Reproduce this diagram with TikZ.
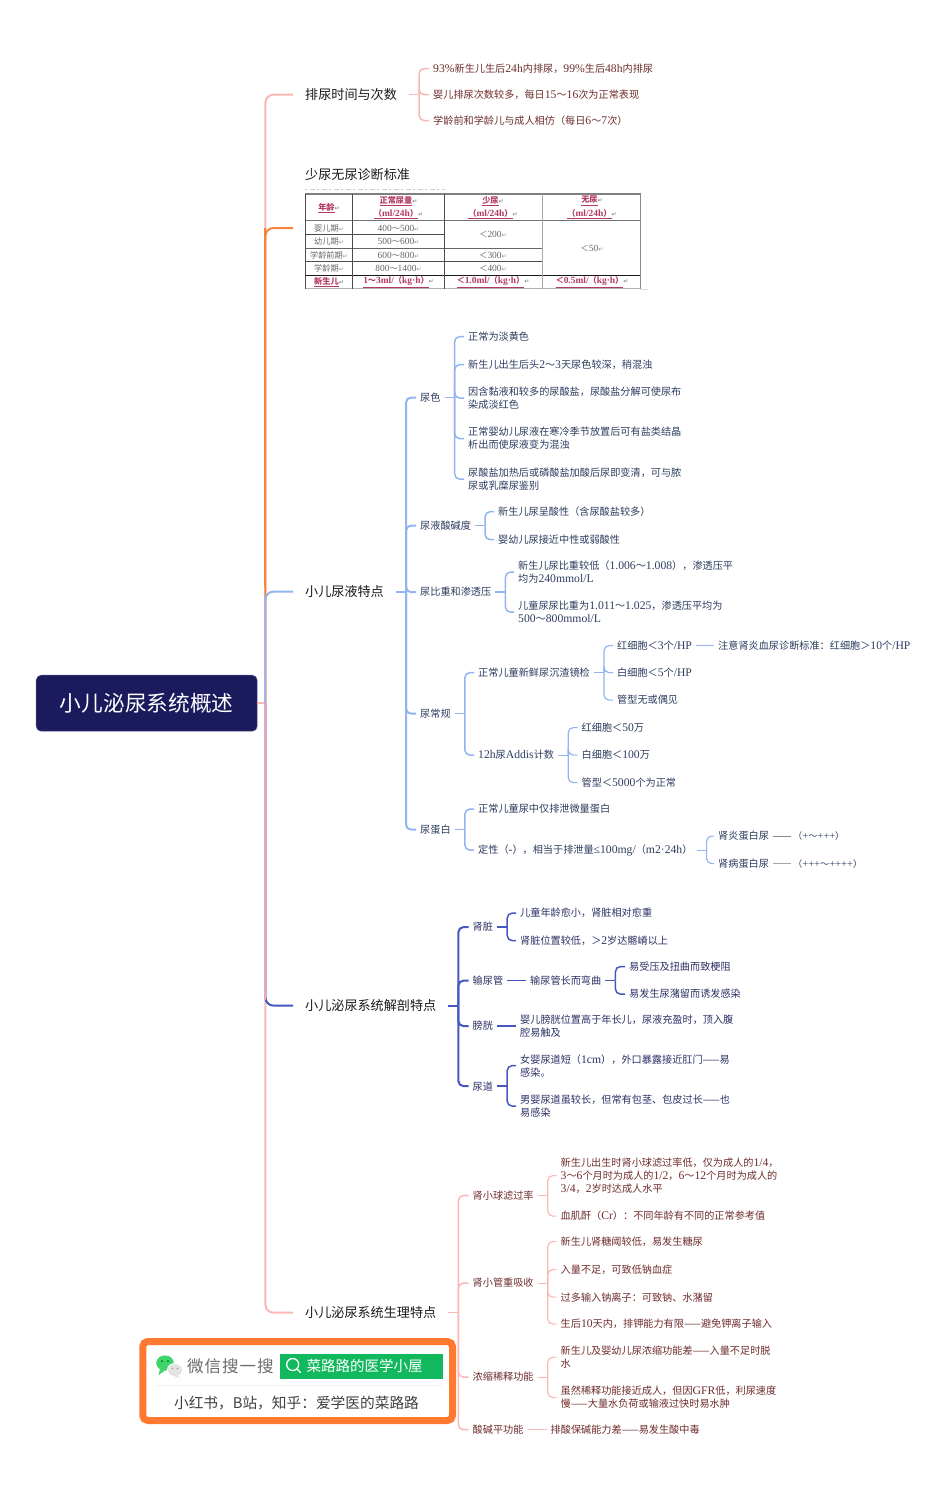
\documentclass[tikz,border=0pt]{standalone}
\usepackage{fontspec}
\usepackage{xcolor}
\usepackage{tikz}
\setmainfont{Noto Sans CJK SC}
\newfontfamily\cjkfont{Noto Sans CJK SC}
\newfontfamily\latfont[Scale=1.15]{Liberation Serif}
\newfontfamily\symfont{DejaVu Sans}
\newfontfamily\spacedfont[LetterSpace=6]{Noto Sans CJK SC}
\definecolor{Navy}{HTML}{1A1A5C}
\definecolor{Salmon}{HTML}{F8B9B3}
\definecolor{Carrot}{HTML}{F5853C}
\definecolor{Sky}{HTML}{92B4F0}
\definecolor{Periwinkle}{HTML}{A5B2E2}
\definecolor{Mauve}{HTML}{E8A9BC}
\definecolor{Indigo}{HTML}{4657C0}
\definecolor{WineInk}{HTML}{6E2C2C}
\definecolor{SkyInk}{HTML}{2C3C5E}
\definecolor{IndigoInk}{HTML}{2C3064}
\definecolor{Crimson}{HTML}{B23A5E}
\definecolor{TableInk}{HTML}{666666}
\definecolor{Badge}{HTML}{FF7A30}
\definecolor{SearchGreen}{HTML}{12B85E}
\definecolor{WeGreen}{HTML}{3FD56B}
\newcommand{\lat}[1]{{\latfont #1}}
\newcommand{\tl}{{\cjkfont ～}}
\newcommand{\rt}{{\symfont\fontsize{6}{6}\selectfont\textcolor{black!45}{↵}}}
\newcommand{\brch}[4]{%
  \draw[#1] (#3.east) -- ++(#2,0);
  \foreach \kid in {#4} \draw[#1,rounded corners=5pt] (#3.east) ++(#2,0) |- (\kid.west);
}
\tikzset{
  topic/.style={anchor=west,inner xsep=12pt,inner ysep=1pt,yshift=-.6pt,font=\fontsize{13.1}{16}\selectfont,text=black!90},
  leaf/.style={anchor=west,inner xsep=4pt,inner ysep=1pt,yshift=-.6pt,align=left,font=\fontsize{10.15}{13}\selectfont},
  rootline/.style={line width=2pt},
  midline/.style={line width=1.5pt},
  thinline/.style={line width=1.2pt},
  cell/.style={inner sep=0pt,font=\fontsize{8.2}{9}\selectfont,text=TableInk},
  headcell/.style={inner sep=0pt,font=\fontsize{8.2}{9}\selectfont\bfseries,text=Crimson},
}
\begin{document}
\begin{tikzpicture}[x=1pt,y=-1pt]
        \useasboundingbox (0,0) rectangle (950,1497);
        \node[fill=Navy,rounded corners=5pt,draw=Navy!75!white,line width=.5pt,minimum width=221pt,minimum height=56pt,text=white,font=\fontsize{21.7}{26}\selectfont,inner sep=0pt] (root) at (146.7,703.2) {小儿泌尿系统概述};

        \node[topic] (tVoid) at (293,94) {排尿时间与次数};
        \node[topic] (tOligo) at (293,174) {少尿无尿诊断标准};
        \coordinate (tOligoEnd) at (293,228);
        \node[topic] (tUrine) at (293,591) {小儿尿液特点};
        \node[topic] (tAnat) at (293,1005) {小儿泌尿系统解剖特点};
        \node[topic] (tPhys) at (293,1312) {小儿泌尿系统生理特点};
        \coordinate (rootBus) at ([xshift=8pt]root.east);

        \draw[rootline,Salmon] (root.east) -- (rootBus);
        \draw[rootline,Salmon,rounded corners=8pt] (rootBus) |- (tVoid.west);
        \draw[rootline,Carrot,rounded corners=8pt] (rootBus) |- (tOligoEnd);
        \draw[rootline,Sky,rounded corners=8pt] (rootBus) |- (tUrine.west);
        \draw[rootline,Salmon,rounded corners=8pt] (rootBus) |- (tPhys.west);
        \draw[rootline,Indigo,rounded corners=8pt] (rootBus) |- (tAnat.west);
        \draw[rootline,Carrot] (rootBus |- tOligoEnd) -- ([yshift=6pt]rootBus |- tUrine.west);
        \draw[rootline,Periwinkle] (rootBus) -- ([yshift=-6pt]rootBus |- tUrine.west);
        \draw[rootline,Mauve] (rootBus) -- ([yshift=6pt]rootBus |- tAnat.west);

        \foreach \nm/\yy/\txt in {v1/68/{\lat{93\%}新生儿生后\lat{24h}内排尿，\lat{99\%}生后\lat{48h}内排尿},v2/94/{婴儿排尿次数较多，每日\lat{15\tl 16}次为正常表现},v3/120/{学龄前和学龄儿与成人相仿（每日\lat{6\tl 7}次）}}{
          \node[leaf,text=WineInk] (\nm) at (429,\yy) {\txt};
        }
        \brch{midline,Salmon}{10}{tVoid}{v1,v2,v3}

        \draw[line width=1pt,black!20,dash pattern=on 2pt off 3pt on 5pt off 2pt] (305,189.5) -- (445,189.5);
        \draw[line width=1.2pt,black!50] (305,194) -- (640.5,194);
        \draw[line width=.7pt,black!55] (305,220.7) -- (640.5,220.7);
        \draw[line width=.7pt,black!70] (305,234.3) -- (444.3,234.3);
        \draw[line width=.7pt,black!60] (305,248.3) -- (542,248.3);
        \draw[line width=.7pt,black!70] (305,261.7) -- (542,261.7);
        \draw[line width=.8pt,black!90] (305,275.3) -- (640.5,275.3);
        \draw[line width=1pt,black!30] (305,288.8) -- (640.5,288.8);
        \draw[line width=.5pt,black!15] (640.5,289.5) -- (648,289.5);
        \foreach \xx/\col in {305.3/black!70,352.7/black!70,444.3/black!70,542/black!35,640.5/black!45}{
          \draw[line width=.8pt,\col] (\xx,194) -- (\xx,288.8);
        }
        \foreach \nm/\xx/\yy/\txt in {h1/329/208/年龄,h2/398.5/201/正常尿量,h3/398.5/214/{（\lat{ml/24h}）},h4/493/201/少尿,h5/493/214/{（\lat{ml/24h}）},h6/592/201/无尿,h7/592/214/{（\lat{ml/24h}）},h8/329/282/新生儿,h9/398.5/282/{\lat{1\tl 3ml/}（\lat{kg·h}）},h10/493/282/{＜\lat{1.0ml/}（\lat{kg·h}）},h11/592/282/{＜\lat{0.5ml/}（\lat{kg·h}）}}{
          \node[headcell] (\nm) at (\xx,\yy) {\underline{\txt}\rt};
        }
        \foreach \nm/\xx/\yy/\txt in {a1/329/228/婴儿期,a2/329/241.5/幼儿期,a3/329/255/学龄前期,a4/329/268.5/学龄期,n1/398.5/228/{\lat{400\tl 500}},n2/398.5/241.5/{\lat{500\tl 600}},n3/398.5/255/{\lat{600\tl 800}},n4/398.5/268.5/{\lat{800\tl 1400}},o1/493/234.5/{＜\lat{200}},o2/493/255/{＜\lat{300}},o3/493/268.5/{＜\lat{400}},x1/592/248/{＜\lat{50}}}{
          \node[cell] (\nm) at (\xx,\yy) {\txt\rt};
        }

        \foreach \nm/\yy/\txt in {color/397/尿色,acid/525/尿液酸碱度,gravity/591.5/尿比重和渗透压,routine/713/尿常规,protein/829/尿蛋白}{
          \node[leaf,text=SkyInk] (\nm) at (416,\yy) {\txt};
        }
        \brch{rootline,Sky}{10}{tUrine}{color,acid,gravity,routine,protein}
        \foreach \nm/\yy/\txt in {c1/336/正常为淡黄色,c2/364/{新生儿出生后头\lat{2\tl 3}天尿色较深，稍混浊},c3/397.5/{因含黏液和较多的尿酸盐，尿酸盐分解可使尿布\\染成淡红色},c4/438/{正常婴幼儿尿液在寒冷季节放置后可有盐类结晶\\析出而使尿液变为混浊},c5/478.5/{尿酸盐加热后或磷酸盐加酸后尿即变清，可与脓\\尿或乳糜尿鉴别}}{
          \node[leaf,text=SkyInk] (\nm) at (464,\yy) {\txt};
        }
        \brch{midline,Sky}{10}{color}{c1,c2,c3,c4,c5}
        \foreach \nm/\yy/\txt in {p1/511/新生儿尿呈酸性（含尿酸盐较多）,p2/539/婴幼儿尿接近中性或弱酸性}{
          \node[leaf,text=SkyInk] (\nm) at (494,\yy) {\txt};
        }
        \brch{midline,Sky}{10}{acid}{p1,p2}
        \foreach \nm/\yy/\txt in {g1/571.5/{新生儿尿比重较低（\lat{1.006\tl 1.008}），渗透压平\\均为\lat{240mmol/L}},g2/611.5/{儿童尿尿比重为\lat{1.011\tl 1.025}，渗透压平均为\\\lat{500\tl 800mmol/L}}}{
          \node[leaf,text=SkyInk] (\nm) at (514,\yy) {\txt};
        }
        \brch{midline,Sky}{10}{gravity}{g1,g2}
        \node[leaf,text=SkyInk] (r1) at (474,672) {正常儿童新鲜尿沉渣镜检};
        \node[leaf,text=SkyInk] (r2) at (474,754.5) {\lat{12h}尿\lat{Addis}计数};
        \brch{midline,Sky}{10}{routine}{r1,r2}
        \foreach \nm/\yy/\txt in {s1/645/{红细胞＜\lat{3}个\lat{/HP}},s2/672/{白细胞＜\lat{5}个\lat{/HP}},s3/699.5/管型无或偶见}{
          \node[leaf,text=SkyInk] (\nm) at (613,\yy) {\txt};
        }
        \brch{thinline,Sky}{10}{r1}{s1,s2,s3}
        \node[leaf,text=SkyInk] (s1n) at (714,645) {注意肾炎血尿诊断标准：红细胞＞\lat{10}个\lat{/HP}};
        \draw[thinline,Sky] (s1) -- (s1n);
        \foreach \nm/\yy/\txt in {d1/727/{红细胞＜\lat{50}万},d2/754.5/{白细胞＜\lat{100}万},d3/782/{管型＜\lat{5000}个为正常}}{
          \node[leaf,text=SkyInk] (\nm) at (577.5,\yy) {\txt};
        }
        \brch{thinline,Sky}{10}{r2}{d1,d2,d3}
        \node[leaf,text=SkyInk] (q1) at (474,808.5) {正常儿童尿中仅排泄微量蛋白};
        \node[leaf,text=SkyInk] (q2) at (474,849.5) {定性（\lat{-}），相当于排泄量\lat{≤100mg/}（\lat{m2·24h}）};
        \brch{midline,Sky}{10}{protein}{q1,q2}
        \node[leaf,text=SkyInk] (k1) at (714,835.5) {肾炎蛋白尿};
        \node[leaf,text=SkyInk] (k2) at (714,863) {肾病蛋白尿};
        \brch{thinline,Sky}{10}{q2}{k1,k2}
        \node[leaf,text=SkyInk,inner xsep=2pt,font=\fontsize{9.15}{13}\selectfont] (k1v) at (791,835.5) {（\lat{+\tl +++}）};
        \node[leaf,text=SkyInk,inner xsep=2pt,font=\fontsize{9.15}{13}\selectfont] (k2v) at (791,863) {（\lat{+++\tl ++++}）};
        \draw[thinline,black!45] (k1) -- (k1v);
        \draw[thinline,black!35] (k2) -- (k2v);

        \foreach \nm/\yy/\txt in {kidney/926.5/肾脏,ureter/980/输尿管,bladder/1025.5/膀胱,urethra/1085.5/尿道}{
          \node[leaf,text=IndigoInk] (\nm) at (468.5,\yy) {\txt};
        }
        \brch{rootline,Indigo}{10}{tAnat}{kidney,ureter,bladder,urethra}
        \foreach \nm/\yy/\txt in {b1/912.5/儿童年龄愈小，肾脏相对愈重,b2/940/{肾脏位置较低，＞\lat{2}岁达髂嵴以上}}{
          \node[leaf,text=IndigoInk] (\nm) at (516,\yy) {\txt};
        }
        \brch{midline,Indigo}{10}{kidney}{b1,b2}
        \node[leaf,text=IndigoInk] (u1) at (526,980) {输尿管长而弯曲};
        \draw[midline,Indigo] (ureter) -- (u1);
        \foreach \nm/\yy/\txt in {u2/966/易受压及扭曲而致梗阻,u3/993.5/易发生尿潴留而诱发感染}{
          \node[leaf,text=IndigoInk] (\nm) at (625,\yy) {\txt};
        }
        \brch{midline,Indigo}{10}{u1}{u2,u3}
        \node[leaf,text=IndigoInk] (l1) at (516,1025.5) {婴儿膀胱位置高于年长儿，尿液充盈时，顶入腹\\腔易触及};
        \draw[midline,Indigo] (bladder) -- (l1);
        \foreach \nm/\yy/\txt in {e1/1065/{女婴尿道短（\lat{1cm}），外口暴露接近肛门——易\\感染。},e2/1105.5/{男婴尿道虽较长，但常有包茎、包皮过长——也\\易感染}}{
          \node[leaf,text=IndigoInk] (\nm) at (516,\yy) {\txt};
        }
        \brch{midline,Indigo}{10}{urethra}{e1,e2}

        \foreach \nm/\yy/\txt in {gfr/1195/肾小球滤过率,tub/1282.5/肾小管重吸收,conc/1376.5/浓缩稀释功能,ph/1429/酸碱平功能}{
          \node[leaf,text=WineInk] (\nm) at (468.5,\yy) {\txt};
        }
        \brch{midline,Salmon}{10}{tPhys}{gfr,tub,conc,ph}
        \foreach \nm/\yy/\txt in {f1/1175/{新生儿出生时肾小球滤过率低，仅为成人的\lat{1/4}，\\\lat{3\tl 6}个月时为成人的\lat{1/2}，\lat{6\tl 12}个月时为成人的\\\lat{3/4}，\lat{2}岁时达成人水平},f2/1215.5/{血肌酐（\lat{Cr}）：不同年龄有不同的正常参考值}}{
          \node[leaf,text=WineInk] (\nm) at (556.5,\yy) {\txt};
        }
        \brch{thinline,Salmon}{10}{gfr}{f1,f2}
        \foreach \nm/\yy/\txt in {w1/1241/新生儿肾糖阈较低，易发生糖尿,w2/1269/入量不足，可致低钠血症,w3/1296.5/过多输入钠离子：可致钠、水潴留,w4/1323.5/{生后\lat{10}天内，排钾能力有限——避免钾离子输入}}{
          \node[leaf,text=WineInk] (\nm) at (556.5,\yy) {\txt};
        }
        \brch{thinline,Salmon}{10}{tub}{w1,w2,w3,w4}
        \foreach \nm/\yy/\txt in {z1/1356.5/{新生儿及婴幼儿尿浓缩功能差——入量不足时脱\\水},z2/1397/{虽然稀释功能接近成人，但因\lat{GFR}低，利尿速度\\慢——大量水负荷或输液过快时易水肿}}{
          \node[leaf,text=WineInk] (\nm) at (556.5,\yy) {\txt};
        }
        \brch{thinline,Salmon}{10}{conc}{z1,z2}
        \node[leaf,text=WineInk] (ph1) at (546.5,1429) {排酸保碱能力差——易发生酸中毒};
        \draw[thinline,Salmon] (ph) -- (ph1);

        \draw[Badge,line width=7pt,fill=white,rounded corners=5pt] (142.8,1341.5) rectangle (452.5,1420.5);
        \fill[SearchGreen] (280,1354) rectangle (442.7,1378.7);
        \draw[black!6,line width=.6pt] (156,1385) -- (442,1385);
        \fill[WeGreen] (165,1363) circle [x radius=8.8,y radius=7.6];
        \fill[WeGreen] (160,1369) -- (158.5,1375) -- (165,1370.5) -- cycle;
        \fill[black!55!green] (162,1361) circle (1) (168,1361) circle (1);
        \fill[white] (175,1370) circle [x radius=8,y radius=7];
        \fill[black!11] (175,1370) circle [x radius=7,y radius=6];
        \fill[black!11] (178,1375) -- (179.5,1378.5) -- (174,1376) -- cycle;
        \fill[black!40] (172.5,1368.5) circle (.8) (177.5,1368.5) circle (.8);
        \draw[white,line width=1.3pt] (292.7,1364.5) circle (6);
        \draw[white,line width=1.3pt,line cap=round] (297,1369) -- (300.5,1372.5);
        \node[inner sep=0pt,anchor=west,text=black!58] (wxLabel) at (187,1366.5) {\spacedfont\fontsize{16.5}{18}\selectfont 微信搜一搜};
        \node[inner sep=0pt,anchor=west,text=white,font=\fontsize{14.5}{17}\selectfont] (wxName) at (306.5,1366) {菜路路的医学小屋};
        \node[inner sep=0pt,text=black!75,font=\fontsize{14.7}{17}\selectfont] (wxFoot) at (296.5,1403) {小红书，B站，知乎：爱学医的菜路路};
      \end{tikzpicture}
\end{document}
